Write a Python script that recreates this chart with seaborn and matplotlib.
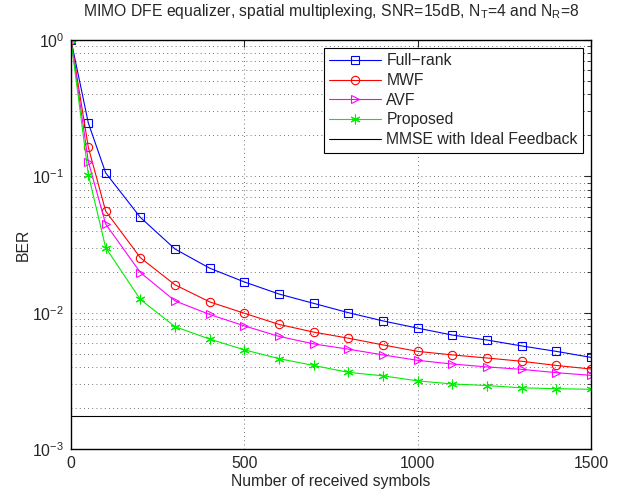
import numpy as np
import pandas as pd
import matplotlib
matplotlib.use("Agg")
import matplotlib.pyplot as plt
import seaborn as sns
from matplotlib.ticker import LogLocator, NullFormatter

# === data ===
symbols = [0, 50, 100, 200, 300, 400, 500, 600, 700, 800, 900, 1000, 1100, 1200, 1300, 1400, 1500]
ber_full_rank = [1.0, 0.246, 0.106, 0.050, 0.0293, 0.0212, 0.0168, 0.0137, 0.0117, 0.0100, 0.0087,
                 0.0077, 0.00685, 0.0063, 0.0057, 0.0052, 0.0047]
ber_mwf = [1.0, 0.163, 0.0556, 0.0253, 0.0160, 0.0120, 0.0099, 0.0082, 0.0072, 0.0065, 0.0058,
           0.0052, 0.0049, 0.00465, 0.0044, 0.0041, 0.00386]
ber_avf = [1.0, 0.128, 0.0447, 0.0197, 0.0122, 0.0097, 0.0080, 0.0067, 0.0059, 0.0054, 0.0049,
           0.00447, 0.0042, 0.0040, 0.00384, 0.00363, 0.00347]
ber_proposed = [1.0, 0.103, 0.030, 0.0125, 0.0079, 0.0064, 0.00534, 0.0046, 0.0041, 0.00365, 0.00344,
                0.00316, 0.0030, 0.00292, 0.00281, 0.00277, 0.00274]
ber_mmse_ideal = 0.00176

names = ["Full\u2212rank", "MWF", "AVF", "Proposed"]
colors = ["#0000ff", "#ff0000", "#ff00ff", "#00ee00"]
markers = ["s", "o", ">", (6, 2, 0)]

df = pd.DataFrame({
    "symbols": symbols * 4,
    "ber": ber_full_rank + ber_mwf + ber_avf + ber_proposed,
    "method": sum([[n] * len(symbols) for n in names], []),
})

# === plot ===
sns.set_style("white")
plt.rcParams["font.family"] = ["Liberation Sans", "DejaVu Sans"]
plt.rcParams["mathtext.fontset"] = "custom"
plt.rcParams["mathtext.rm"] = "Liberation Sans"
plt.rcParams["mathtext.it"] = "Liberation Sans"
fs = 11.3

fig = plt.figure(figsize=(6.21, 4.94), dpi=100)
ax = fig.add_axes([71 / 621, 1 - 449 / 494, 520 / 621, 409 / 494])

for n, c, m in zip(names, colors, markers):
    sns.lineplot(data=df[df["method"] == n], x="symbols", y="ber", ax=ax, color=c,
                 marker=m, markersize=6 if m != (6, 2, 0) else 7, markerfacecolor="none",
                 markeredgecolor=c, markeredgewidth=0.8, linewidth=0.8, label=n)

ax.axhline(ber_mmse_ideal, color="black", linewidth=0.8, label="MMSE with Ideal Feedback")

ax.set_yscale("log")
ax.set_xlim(0, 1500)
ax.set_ylim(1e-3, 1)
ax.set_xticks([0, 500, 1000, 1500])
ax.yaxis.set_major_locator(LogLocator(base=10, numticks=10))
ax.yaxis.set_minor_locator(LogLocator(base=10, subs=np.arange(2, 10), numticks=10))
ax.yaxis.set_minor_formatter(NullFormatter())

ax.grid(True, which="major", linestyle=(0, (1, 4)), color="#444444", linewidth=0.6)
ax.grid(True, which="minor", axis="y", linestyle=(0, (1, 4)), color="#444444", linewidth=0.6)
ax.tick_params(which="both", direction="in", top=True, right=True, labelsize=fs, pad=5)
ax.tick_params(which="major", length=5)
ax.tick_params(which="minor", length=3)
for s in ax.spines.values():
    s.set_linewidth(1.0)
    s.set_color("black")

ax.set_xlabel("Number of received symbols", fontsize=fs, labelpad=2)
ax.set_ylabel("BER", fontsize=fs, labelpad=1)
ax.set_title("MIMO DFE equalizer, spatial multiplexing, SNR=15dB, N$_T$=4 and N$_R$=8",
             fontsize=fs, pad=17)

leg = ax.legend(loc="upper right", fontsize=fs, frameon=True, fancybox=False,
                edgecolor="black", framealpha=1, borderaxespad=0.5, handlelength=3.3,
                handletextpad=0.35, labelspacing=0.3, borderpad=0.35)
leg.get_frame().set_linewidth(0.8)

fig.savefig("out.png", dpi=100)
